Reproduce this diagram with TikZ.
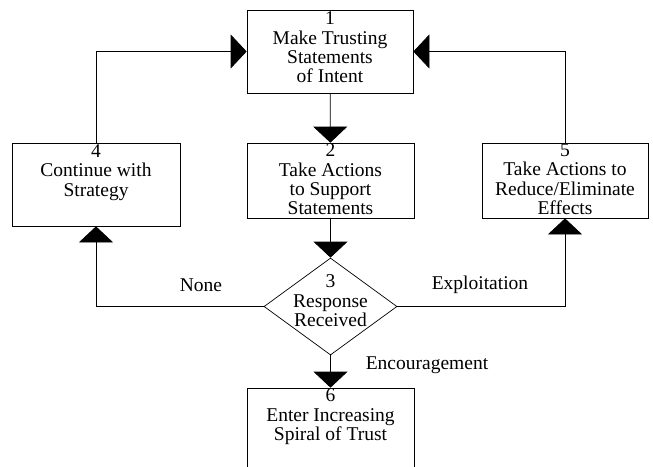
\documentclass[tikz,border=0pt]{standalone}
\usepackage{fontspec}
\setmainfont{Liberation Serif}
\usetikzlibrary{arrows.meta,shapes.geometric}
\begin{document}
\begin{tikzpicture}[>={Triangle[length=16pt,width=34pt]},x=1pt,y=-1pt,
	font=\fontsize{19.5}{19.3}\selectfont,
	stepbox/.style={draw,line width=0.7pt,minimum width=167pt,inner sep=0pt},
	steptext/.style={align=center,anchor=north,inner sep=0pt},
	link/.style={->,line width=0.7pt}]
	\useasboundingbox (0,0) rectangle (653,466);
	% boxes
	\node[stepbox,minimum width=166pt,minimum height=83pt,
		label={[steptext,yshift=-2pt]north:{1\\Make Trusting\\Statements\\of Intent}}] (intent) at (330,51.5) {};
	\node[stepbox,minimum height=75pt,
		label={[steptext,yshift=-1pt]north:{2\\Take Actions\\to Support\\Statements}}] (support) at (330.5,180.5) {};
	\node[stepbox,minimum width=168pt,minimum height=83pt,
		label={[steptext,yshift=-2pt]north:{4\\Continue with\\Strategy}}] (cont) at (96,184.5) {};
	\node[stepbox,minimum width=166pt,minimum height=75pt,
		label={[steptext,yshift=-1pt]north:{5\\Take Actions to\\Reduce/Eliminate\\Effects}}] (reduce) at (565,180.5) {};
	\node[draw,diamond,line width=0.7pt,inner sep=0pt,minimum width=133pt,minimum height=97pt,
		label={[steptext,yshift=-17pt]north:{3\\Response\\Received}}] (resp) at (330.5,306.5) {};
	\node[stepbox,minimum height=100pt,
		label={[steptext,yshift=-1pt]north:{6\\Enter Increasing\\Spiral of Trust}}] (spiral) at (330.5,438) {};
	% connectors
	\draw[link] (intent) -- (support);
	\draw[link] (support) -- (resp);
	\draw[link] (resp) -- (spiral);
	\draw[link] (resp.west) -| (cont.south);
	\draw[link] (resp.east) -| (reduce.south);
	\draw[link] (cont.north) |- (intent.west);
	\draw[link] (reduce.north) |- (intent.east);
	% outcomes
	\node (none) at (201,285) {None};
	\node (exploit) at (480,285) {Exploitation};
	\node (encourage) at (427,365) {Encouragement};
\end{tikzpicture}
\end{document}
